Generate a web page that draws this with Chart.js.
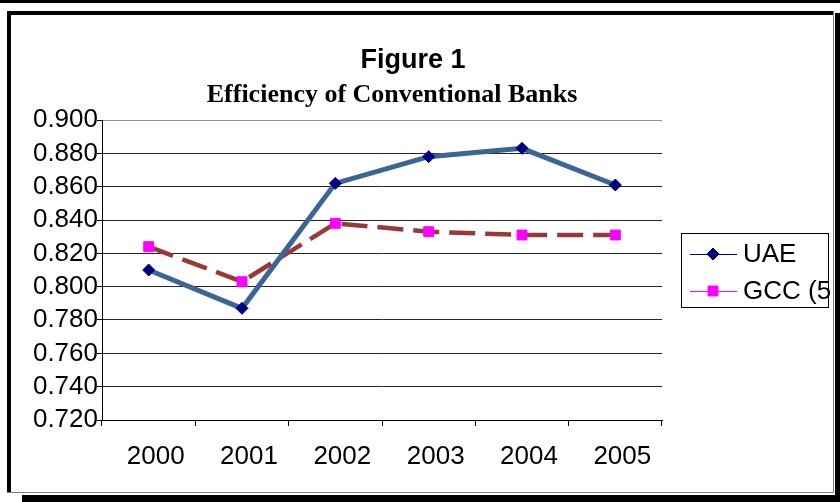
<!DOCTYPE html>
<html>
<head>
<meta charset="utf-8">
<script src="https://cdn.jsdelivr.net/npm/chart.js@4.4.1/dist/chart.umd.min.js"></script>
<style>
  html, body { margin: 0; padding: 0; background: #fff; }
  canvas { display: block; }
</style>
</head>
<body>
<canvas id="chart" width="840" height="502"></canvas>
<script>
// Efficiency scores, conventional banks
const years = ['2000', '2001', '2002', '2003', '2004', '2005'];
const uaeValues = [0.810, 0.787, 0.862, 0.878, 0.883, 0.861];
const gccValues = [0.824, 0.803, 0.838, 0.833, 0.831, 0.831];
const seriesNames = ['UAE', 'GCC (5)'];
const yMin = 0.72;
const yMax = 0.90;
const yStep = 0.02;

const titleText = 'Figure 1';
const subtitleText = 'Efficiency of Conventional Banks';

const SANS = "'Liberation Sans', Arial, sans-serif";
const SERIF = "'Liberation Serif', 'Times New Roman', serif";

Chart.defaults.font.family = SANS;
Chart.defaults.font.size = 26;
Chart.defaults.color = '#000';

// white page, framed box with a drop shadow
const framePlugin = {
    id: 'frame',
    beforeDraw(chart) {
        const ctx = chart.ctx;
        ctx.save();
        ctx.fillStyle = '#fff';
        ctx.fillRect(0, 0, chart.width, chart.height);
        ctx.restore();
    },
    afterDraw(chart) {
        const ctx = chart.ctx;
        ctx.save();
        ctx.fillStyle = '#000';
        ctx.fillRect(0, 0, 840, 3);
        ctx.fillRect(7, 11, 4, 482);
        ctx.fillRect(7, 11, 827, 4);
        ctx.fillStyle = '#808080';
        ctx.fillRect(833, 11, 1, 482);
        ctx.fillRect(7, 492, 827, 1);
        ctx.fillStyle = '#fff';
        ctx.fillRect(834, 11, 1, 491);
        ctx.fillStyle = '#000';
        ctx.fillRect(835, 13, 5, 489);
        ctx.fillRect(22, 495, 818, 7);
        ctx.restore();
    }
};

// two-line heading
const headingPlugin = {
    id: 'heading',
    afterDraw(chart) {
        const ctx = chart.ctx;
        ctx.save();
        ctx.fillStyle = '#000';
        ctx.textAlign = 'center';
        ctx.textBaseline = 'alphabetic';
        ctx.font = 'bold 27px ' + SANS;
        ctx.fillText(titleText, 413, 68);
        ctx.font = 'bold 26px ' + SERIF;
        ctx.fillText(subtitleText, 392, 102);
        ctx.restore();
    }
};

// boxed legend on the right, line + marker per series
const boxLegendPlugin = {
    id: 'boxLegend',
    afterDraw(chart) {
        const ctx = chart.ctx;
        const box = { x: 681, y: 233, w: 147, h: 74 };
        ctx.save();
        ctx.strokeStyle = '#000';
        ctx.lineWidth = 1;
        ctx.strokeRect(box.x + 0.5, box.y + 0.5, box.w, box.h);

        ctx.beginPath();
        ctx.rect(0, 0, 831, chart.height);
        ctx.clip();

        chart.data.datasets.forEach((ds, i) => {
            const y = 254 + i * 37;
            ctx.strokeStyle = ds.pointBackgroundColor;
            ctx.lineWidth = 1;
            ctx.setLineDash([]);
            ctx.beginPath();
            ctx.moveTo(690, y + 0.5);
            ctx.lineTo(737, y + 0.5);
            ctx.stroke();

            ctx.fillStyle = ds.pointBackgroundColor;
            ctx.strokeStyle = ds.pointBorderColor;
            Chart.helpers.drawPoint(ctx, {
                pointStyle: ds.pointStyle,
                radius: ds.pointRadius,
                rotation: 0,
                borderWidth: 1
            }, 713, y);

            ctx.fillStyle = '#000';
            ctx.font = '26px ' + SANS;
            ctx.textAlign = 'left';
            ctx.textBaseline = 'middle';
            ctx.fillText(ds.label, 743, y + 1);
        });
        ctx.restore();
    }
};

new Chart(document.getElementById('chart'), {
    type: 'line',
    data: {
        labels: years,
        datasets: [
            {
                label: seriesNames[0],
                data: uaeValues,
                borderColor: '#3A6595',
                borderWidth: 5,
                pointStyle: 'rectRot',
                pointRadius: 6,
                pointBackgroundColor: '#000080',
                pointBorderColor: '#000080',
                pointBorderWidth: 1,
                tension: 0
            },
            {
                label: seriesNames[1],
                data: gccValues,
                borderColor: '#993838',
                borderWidth: 4.5,
                borderDash: [26, 10],
                pointStyle: 'rect',
                pointRadius: 7,
                pointBackgroundColor: '#FF00FF',
                pointBorderColor: '#FF00FF',
                pointBorderWidth: 1,
                tension: 0
            }
        ]
    },
    options: {
        responsive: false,
        animation: false,
        devicePixelRatio: 1,
        layout: {
            padding: { left: 0, top: 120, right: 178, bottom: 0 }
        },
        plugins: {
            legend: { display: false },
            title: { display: false },
            tooltip: { enabled: false }
        },
        scales: {
            x: {
                offset: true,
                grid: {
                    offset: true,
                    drawOnChartArea: true,
                    color: ctx => ctx.index === years.length ? '#909090' : 'rgba(0,0,0,0)',
                    tickColor: '#000',
                    tickLength: 6
                },
                border: { color: '#000', width: 1 },
                ticks: { padding: 15, labelOffset: 7, maxRotation: 0, autoSkip: false },
                afterFit(scale) { scale.height = 82; }
            },
            y: {
                min: yMin,
                max: yMax,
                grid: {
                    color: ctx => ctx.tick && Math.abs(ctx.tick.value - yMax) < 1e-9 ? '#909090' : '#262626',
                    tickColor: '#000',
                    tickLength: 5
                },
                border: { color: '#000', width: 1 },
                ticks: {
                    stepSize: yStep,
                    autoSkip: false,
                    padding: -1,
                    callback: v => v.toFixed(3)
                },
                afterFit(scale) { scale.width = 102; }
            }
        }
    },
    plugins: [framePlugin, headingPlugin, boxLegendPlugin]
});
</script>
</body>
</html>
